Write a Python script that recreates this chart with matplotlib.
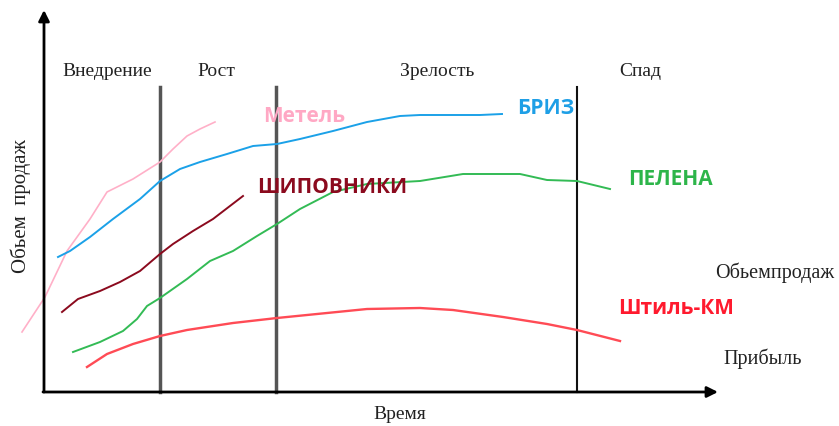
import matplotlib
matplotlib.use("Agg")
import matplotlib.pyplot as plt

# Data (time units along x from origin, volume units up from x-axis)
metel_t = [-22, 1, 23, 46, 63, 89, 116, 129, 143, 156, 171]
metel_v = [60, 95, 141, 173, 200, 213, 230, 243, 256, 263, 270]

briz_t = [14, 26, 46, 69, 96, 116, 136, 156, 183, 209, 233, 256, 289, 323, 356, 376, 436, 458]
briz_v = [135, 141, 155, 173, 193, 211, 223, 230, 238, 246, 248, 253, 261, 270, 276, 277, 277, 278]

ship_t = [18, 34, 56, 76, 96, 116, 129, 149, 169, 199]
ship_v = [80, 93, 101, 110, 121, 138, 148, 161, 173, 196]

pelena_t = [29, 56, 79, 93, 103, 116, 143, 166, 189, 213, 233, 256, 289, 323, 376, 419, 476, 503, 533, 566]
pelena_v = [40, 50, 61, 73, 86, 94, 113, 131, 141, 156, 168, 183, 200, 208, 211, 218, 218, 212, 211, 203]

shtil_t = [43, 63, 89, 116, 143, 189, 233, 273, 323, 376, 409, 459, 503, 533, 576]
shtil_v = [25, 38, 48, 56, 62, 69, 74, 78, 83, 84, 82, 75, 68, 62, 51]

stage_bounds = [116, 232, 533]
stage_names = ["Внедрение", "Рост", "Зрелость", "Спад"]
stage_label_t = [63, 172, 393, 596]

fig = plt.figure(figsize=(8.39, 4.27), dpi=100)
ax = fig.add_axes([0, 0, 1, 1])
ax.set_xlim(-44, 795)
ax.set_ylim(-34, 393)
ax.axis("off")

serif = "Liberation Serif"
sans = "Open Sans"

# axes with arrows
ax.annotate("", xy=(0, 382), xytext=(0, 0),
            arrowprops=dict(arrowstyle="-|>", lw=2, color="black", mutation_scale=16,
                            shrinkA=0, shrinkB=0))
ax.annotate("", xy=(674, 0), xytext=(-1, 0),
            arrowprops=dict(arrowstyle="-|>", lw=2, color="black", mutation_scale=16,
                            shrinkA=0, shrinkB=0))

# stage boundaries
ax.plot([stage_bounds[0]] * 2, [0, 305], color="#555555", lw=2.5)
ax.plot([stage_bounds[1]] * 2, [0, 305], color="#555555", lw=2.5)
ax.plot([stage_bounds[2]] * 2, [0, 305], color="#111111", lw=1.5)

for name, t in zip(stage_names, stage_label_t):
    ax.text(t, 321, name, family=serif, fontsize=14, ha="center", va="center", color="#222222")

# curves
ax.plot(metel_t, metel_v, color="#FFB0C8", lw=1.2)
ax.plot(briz_t, briz_v, color="#1BA1E8", lw=1.4)
ax.plot(ship_t, ship_v, color="#8B0A1E", lw=1.4)
ax.plot(pelena_t, pelena_v, color="#33BB55", lw=1.4)
ax.plot(shtil_t, shtil_v, color="#FF4B55", lw=1.7)

# series labels
lab = dict(family=sans, weight="bold", fontsize=15, ha="center", va="center")
ax.text(260, 276, "Метель", color="#FFA8C4", **lab)
ax.text(502, 284, "БРИЗ", color="#1E9FE6", **lab)
ax.text(288, 205, "ШИПОВНИКИ", color="#8B0A1E", **lab)
ax.text(626, 213, "ПЕЛЕНА", color="#2DB54A", **lab)
ax.text(632, 84, "Штиль-КМ", color="#FF1A2E", **lab)

# other labels
ax.text(731, 120, "Обьемпродаж", family=serif, fontsize=14.5, ha="center", va="center", color="#222222")
ax.text(719, 34, "Прибыль", family=serif, fontsize=14.5, ha="center", va="center", color="#222222")
ax.text(356, -22, "Время", family=serif, fontsize=14, ha="center", va="center", color="#222222")
ax.text(-23, 187, "Обьем  продаж", family=serif, fontsize=15, ha="center", va="center",
        rotation=90, color="#222222")

fig.savefig("out.png", dpi=100)
